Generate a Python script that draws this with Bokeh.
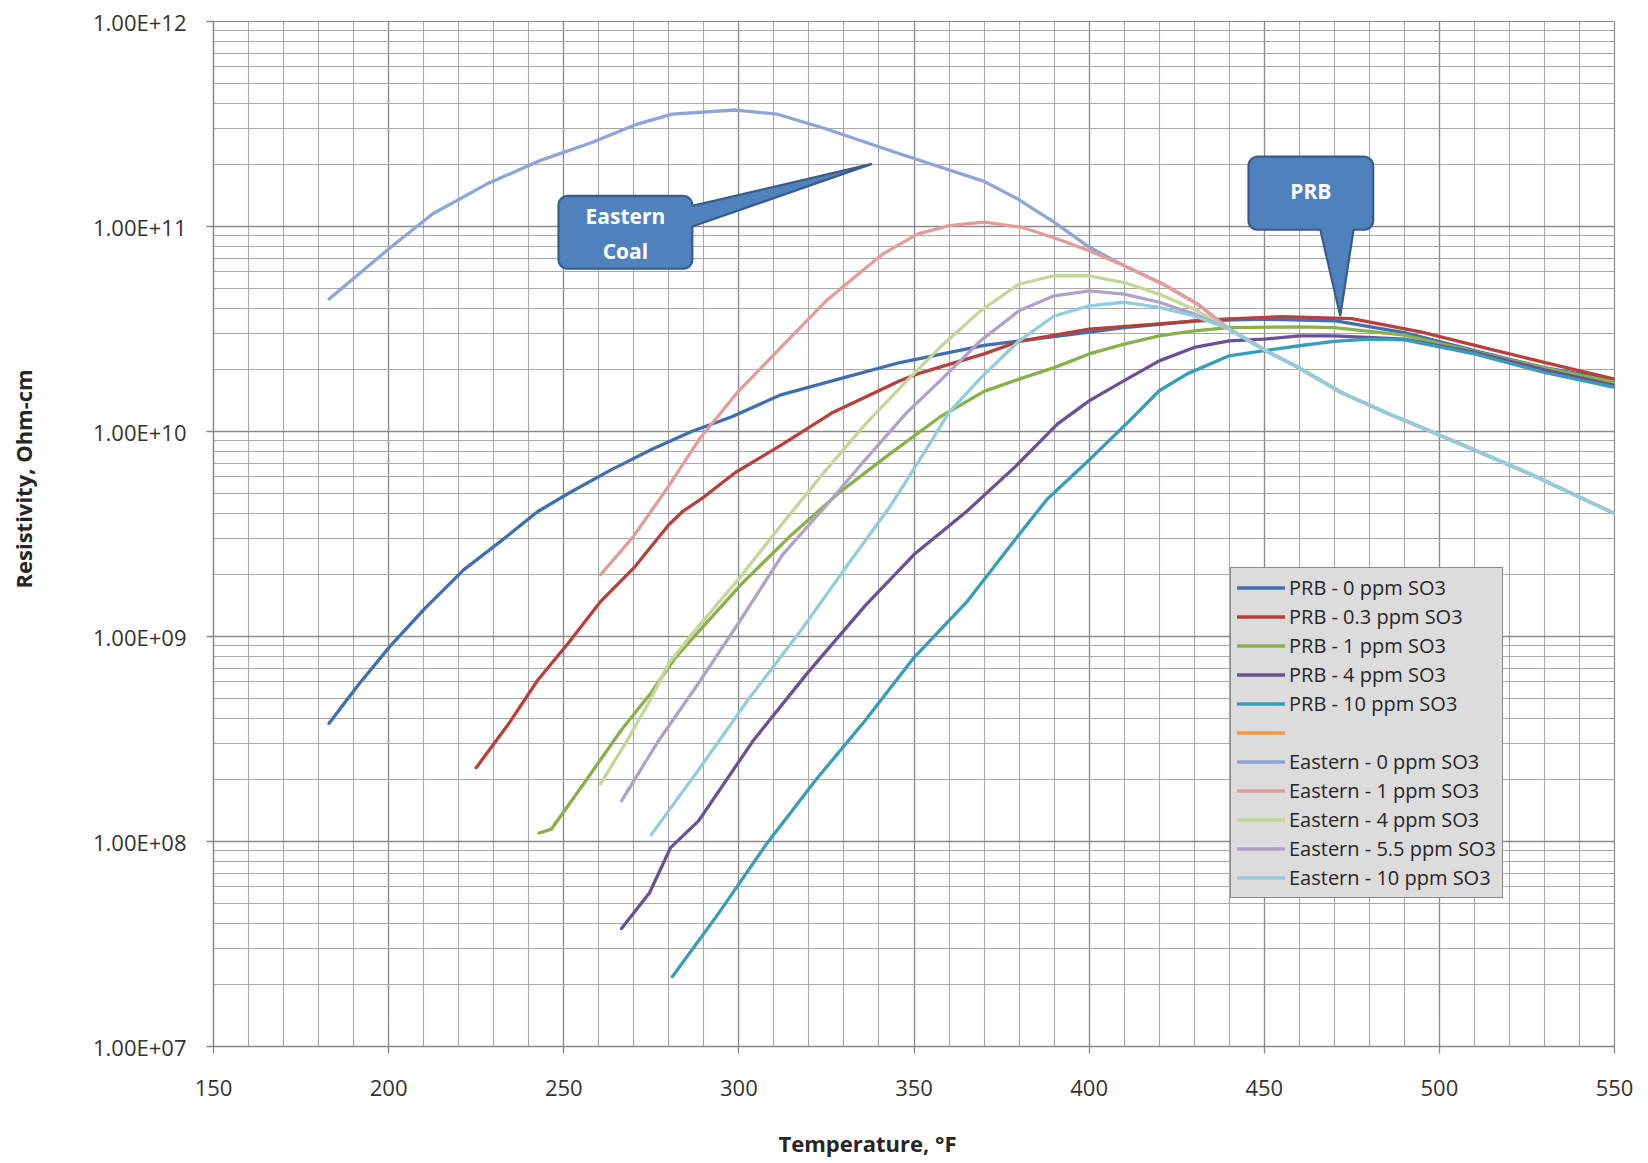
import math
from bokeh.plotting import figure
from bokeh.models import (Range1d, FixedTicker, CustomJSTickFormatter, Legend,
                          LegendItem, Label)
from bokeh.embed import file_html
from bokeh.resources import INLINE

FONT = "Open Sans"

# ---------------- data (temperature in °F, resistivity in Ohm-cm) ----------------
prb0_t = [183, 191.5, 200.5, 210.5, 221.5, 231.5, 242.5, 251.5, 263.5, 275.5, 286.5,
          298, 312, 330, 346, 370, 390, 410, 431, 450, 470, 490, 510, 530, 550]
prb0_v = [3.77e8, 5.85e8, 9.00e8, 1.38e9, 2.12e9, 2.87e9, 4.06e9, 5.01e9, 6.50e9, 8.24e9, 1.00e10,
          1.18e10, 1.51e10, 1.83e10, 2.17e10, 2.63e10, 2.90e10, 3.21e10, 3.47e10, 3.53e10, 3.47e10,
          3.04e10, 2.48e10, 2.05e10, 1.78e10]

prb03_t = [225, 234.5, 242.5, 251.5, 260.5, 270, 280, 284, 290, 299, 312.5, 326.5, 346, 351,
           370, 380, 400, 420, 435, 455, 475, 495, 515, 535, 550]
prb03_v = [2.29e8, 3.80e8, 6.10e8, 9.38e8, 1.48e9, 2.16e9, 3.51e9, 4.08e9, 4.79e9, 6.31e9,
           8.67e9, 1.23e10, 1.77e10, 1.91e10, 2.39e10, 2.75e10, 3.16e10, 3.35e10, 3.51e10,
           3.63e10, 3.55e10, 3.05e10, 2.51e10, 2.07e10, 1.80e10]

prb1_t = [243, 246.5, 256.5, 266.5, 275, 282, 289, 301, 315, 329, 343, 357.5, 370, 380, 390,
          400, 410, 420, 430, 440, 460, 470, 490, 510, 530, 550]
prb1_v = [1.10e8, 1.15e8, 2.00e8, 3.51e8, 5.33e8, 7.94e8, 1.08e9, 1.82e9, 3.13e9, 5.09e9,
          7.76e9, 1.18e10, 1.57e10, 1.80e10, 2.05e10, 2.39e10, 2.67e10, 2.93e10, 3.10e10,
          3.21e10, 3.24e10, 3.21e10, 2.95e10, 2.45e10, 2.04e10, 1.74e10]

prb4_t = [266.5, 274.5, 280.5, 288.5, 304, 319.5, 336, 350, 365, 379, 391, 400, 410, 420, 430,
          440, 450, 460, 470, 490, 510, 530, 550]
prb4_v = [3.76e7, 5.62e7, 9.33e7, 1.26e8, 3.09e8, 6.61e8, 1.41e9, 2.51e9, 4.07e9, 6.76e9,
          1.09e10, 1.41e10, 1.77e10, 2.21e10, 2.57e10, 2.77e10, 2.82e10, 2.93e10, 2.93e10,
          2.82e10, 2.43e10, 2.00e10, 1.68e10]

prb10_t = [281, 294, 308, 322, 336, 350, 365, 379, 388, 400, 412, 420, 428, 440, 450, 460, 470,
           480, 490, 510, 530, 550]
prb10_v = [2.19e7, 4.41e7, 9.79e7, 2.00e8, 3.88e8, 7.89e8, 1.47e9, 2.99e9, 4.67e9, 7.26e9,
           1.15e10, 1.58e10, 1.91e10, 2.34e10, 2.48e10, 2.62e10, 2.75e10, 2.82e10, 2.80e10,
           2.39e10, 1.94e10, 1.64e10]

# series with no points (blank legend entry in the original)
blank_t = [float("nan")]
blank_v = [float("nan")]

# common descending branch shared by all Eastern curves
east_tail_t = [440, 451, 460, 472, 485, 499, 525, 550]
east_tail_v = [3.16e10, 2.45e10, 2.04e10, 1.55e10, 1.23e10, 9.77e9, 6.31e9, 3.98e9]

east0_t = [183, 200, 212.5, 228, 243, 258, 271, 281, 299, 311, 325, 345, 370, 380, 390, 400,
           410, 421, 431]
east0_v = [4.43e10, 7.76e10, 1.15e11, 1.61e11, 2.09e11, 2.57e11, 3.16e11, 3.53e11, 3.70e11,
           3.53e11, 2.99e11, 2.29e11, 1.66e11, 1.35e11, 1.05e11, 7.94e10, 6.43e10, 5.24e10, 4.18e10]

east1_t = [260.5, 270, 280, 289, 300, 312, 325, 335, 341, 351, 360, 370, 381, 391, 400, 410,
           421, 431]
east1_v = [2.00e9, 3.09e9, 5.43e9, 9.33e9, 1.58e10, 2.57e10, 4.35e10, 6.03e10, 7.33e10, 9.18e10,
           1.01e11, 1.05e11, 9.89e10, 8.69e10, 7.62e10, 6.43e10, 5.24e10, 4.18e10]

east4_t = [260.5, 268, 275, 280, 288, 300, 312.5, 324.5, 336, 348, 358, 369, 380, 390, 400, 410,
           420, 430]
east4_v = [1.91e8, 3.09e8, 5.01e8, 7.41e8, 1.10e9, 1.91e9, 3.57e9, 6.37e9, 1.08e10, 1.77e10,
           2.63e10, 3.88e10, 5.24e10, 5.75e10, 5.75e10, 5.33e10, 4.68e10, 3.95e10]

east55_t = [266.5, 277, 288, 300, 312.5, 324.5, 336, 348, 357.5, 369, 380, 390, 400, 410, 420,
            430]
east55_v = [1.58e8, 3.09e8, 5.75e8, 1.17e9, 2.51e9, 4.27e9, 7.26e9, 1.24e10, 1.77e10, 2.77e10,
            3.88e10, 4.59e10, 4.85e10, 4.68e10, 4.27e10, 3.74e10]

east10_t = [275, 288.5, 303, 317, 331.5, 343, 353, 360, 369, 380, 390, 400, 410, 420, 430]
east10_v = [1.08e8, 2.24e8, 5.01e8, 1.03e9, 2.29e9, 4.27e9, 7.94e9, 1.24e10, 1.82e10, 2.77e10,
            3.66e10, 4.10e10, 4.27e10, 4.03e10, 3.66e10]

series_names = ["PRB - 0 ppm SO3", "PRB - 0.3 ppm SO3", "PRB - 1 ppm SO3", "PRB - 4 ppm SO3",
                "PRB - 10 ppm SO3", " ", "Eastern - 0 ppm SO3", "Eastern - 1 ppm SO3",
                "Eastern - 4 ppm SO3", "Eastern - 5.5 ppm SO3", "Eastern - 10 ppm SO3"]
series_colors = ["#3F6FAE", "#B8403C", "#8AB04A", "#6A5194", "#3A9DB6", "#F79646",
                 "#8EA5D5", "#E39C9A", "#C3D79A", "#B1A1C8", "#93CDDD"]

x_ticks = [150, 200, 250, 300, 350, 400, 450, 500, 550]
y_ticks = [1e7, 1e8, 1e9, 1e10, 1e11, 1e12]
y_tick_labels = ["1.00E+07", "1.00E+08", "1.00E+09", "1.00E+10", "1.00E+11", "1.00E+12"]

x_label = "Temperature, °F"
y_label = "Resistivity, Ohm-cm"

# ---------------- figure ----------------
W, H = 1648, 1163
ML, MT = 213, 21
FW, FH = 1401, 1025
MR, MB = W - ML - FW, H - MT - FH
X0, X1 = 150, 550
D0, D1 = 7, 12

p = figure(width=W, height=H, x_range=Range1d(X0, X1), y_range=Range1d(10 ** D0, 10 ** D1),
           y_axis_type="log", output_backend="svg", toolbar_location=None,
           min_border_left=ML, min_border_right=MR, min_border_top=MT, min_border_bottom=MB,
           background_fill_color="white", border_fill_color="white")
p.outline_line_color = "#8C8C8C"
p.outline_line_width = 1.2

p.xaxis.ticker = FixedTicker(ticks=x_ticks, minor_ticks=list(range(X0, X1 + 1, 10)))
p.yaxis.ticker = FixedTicker(ticks=y_ticks,
                             minor_ticks=[m * 10 ** k for k in range(D0, D1) for m in range(2, 10)])
p.yaxis.formatter = CustomJSTickFormatter(args=dict(labels=y_tick_labels),
                                          code="return labels[Math.round(Math.log10(tick)) - 7];")

for g in (p.xgrid, p.ygrid):
    g.grid_line_color = "#8A8A8A"
    g.grid_line_width = 1.3
    g.minor_grid_line_color = "#A8A8A8"
    g.minor_grid_line_width = 1.1

for ax in (p.xaxis, p.yaxis):
    ax.axis_line_color = "#868686"
    ax.axis_line_width = 1.3
    ax.major_tick_line_color = "#868686"
    ax.major_tick_line_width = 1.3
    ax.major_tick_out = 7
    ax.major_tick_in = 0
    ax.minor_tick_out = 0
    ax.minor_tick_in = 0
    ax.major_label_text_font = FONT
    ax.major_label_text_font_size = "22px"
    ax.major_label_text_color = "#333333"
p.xaxis.major_label_standoff = 26
p.yaxis.major_label_standoff = 20

# ---------------- series ----------------
east_pts = [(east0_t, east0_v), (east1_t, east1_v), (east4_t, east4_v),
            (east55_t, east55_v), (east10_t, east10_v)]
all_series = [(prb0_t, prb0_v), (prb03_t, prb03_v), (prb1_t, prb1_v), (prb4_t, prb4_v),
              (prb10_t, prb10_v), (blank_t, blank_v)] + \
             [(t + east_tail_t, v + east_tail_v) for t, v in east_pts]

renderers = []
for (t, v), c in zip(all_series, series_colors):
    r = p.line(t, v, line_color=c, line_width=3.3, line_join="round", line_cap="round")
    renderers.append(r)

legend = Legend(items=[LegendItem(label=n, renderers=[r]) for n, r in zip(series_names, renderers)],
                location=(1017, 148), orientation="vertical",
                label_text_font=FONT, label_text_font_size="20px", label_text_color="#262626",
                glyph_width=48, glyph_height=27, label_height=27, label_standoff=4,
                spacing=2, padding=6, margin=0,
                background_fill_color="#DCDCDC", background_fill_alpha=1.0,
                border_line_color="#3A3A3A", border_line_width=1.5)
p.add_layout(legend)

# ---------------- callouts ----------------
XS = FW / (X1 - X0)      # px per °F
YS = FH / (D1 - D0)      # px per decade


def callout(t0, t1, v0, v1, tip_t, tip_v, side, b0, b1, r=9, n=7):
    X0p, X1p = t0 * XS, t1 * XS
    Y0p, Y1p = math.log10(v0) * YS, math.log10(v1) * YS
    tx, ty = tip_t * XS, math.log10(tip_v) * YS

    def arc(cx, cy, a0, a1):
        return [(cx + r * math.cos(math.radians(a0 + (a1 - a0) * i / (n - 1))),
                 cy + r * math.sin(math.radians(a0 + (a1 - a0) * i / (n - 1)))) for i in range(n)]

    pts = arc(X0p + r, Y0p + r, 180, 270)
    if side == "bottom":
        pts += [(b0 * XS, Y0p), (tx, ty), (b1 * XS, Y0p)]
    pts += arc(X1p - r, Y0p + r, 270, 360)
    if side == "right":
        pts += [(X1p, math.log10(b0) * YS), (tx, ty), (X1p, math.log10(b1) * YS)]
    pts += arc(X1p - r, Y1p - r, 0, 90)
    pts += arc(X0p + r, Y1p - r, 90, 180)
    xs = [q[0] / XS for q in pts]
    ys = [10 ** (q[1] / YS) for q in pts]
    p.patch(xs, ys, fill_color="#4F81BD", line_color="#385D8A", line_width=2.2)


callout(248.5, 286.7, 6.22e10, 1.41e11, 338, 2.02e11, "right", 1.0e11, 1.26e11)
callout(445.5, 481.1, 9.64e10, 2.19e11, 471.7, 3.66e10, "bottom", 466, 475.5)

for txt, tx, ty in [("Eastern", 267.6, 1.127e11), ("Coal", 267.6, 7.6e10), ("PRB", 463.3, 1.49e11)]:
    p.add_layout(Label(x=tx, y=ty, text=txt, text_align="center", text_baseline="middle",
                       text_font=FONT, text_font_size="21px", text_font_style="bold",
                       text_color="white"))

# ---------------- axis titles (in side panels, screen units) ----------------
p.add_layout(Label(x=565, y=-14, x_units="screen", y_units="screen", text=x_label,
                   text_align="left", text_baseline="middle", text_font=FONT,
                   text_font_size="22px", text_font_style="bold", text_color="#262626"), "below")
p.add_layout(Label(x=-38, y=458, x_units="screen", y_units="screen", text=y_label,
                   angle=math.pi / 2, text_align="left", text_baseline="middle", text_font=FONT,
                   text_font_size="22px", text_font_style="bold", text_color="#262626"), "left")

open("out.html", "w").write(file_html(p, INLINE))
